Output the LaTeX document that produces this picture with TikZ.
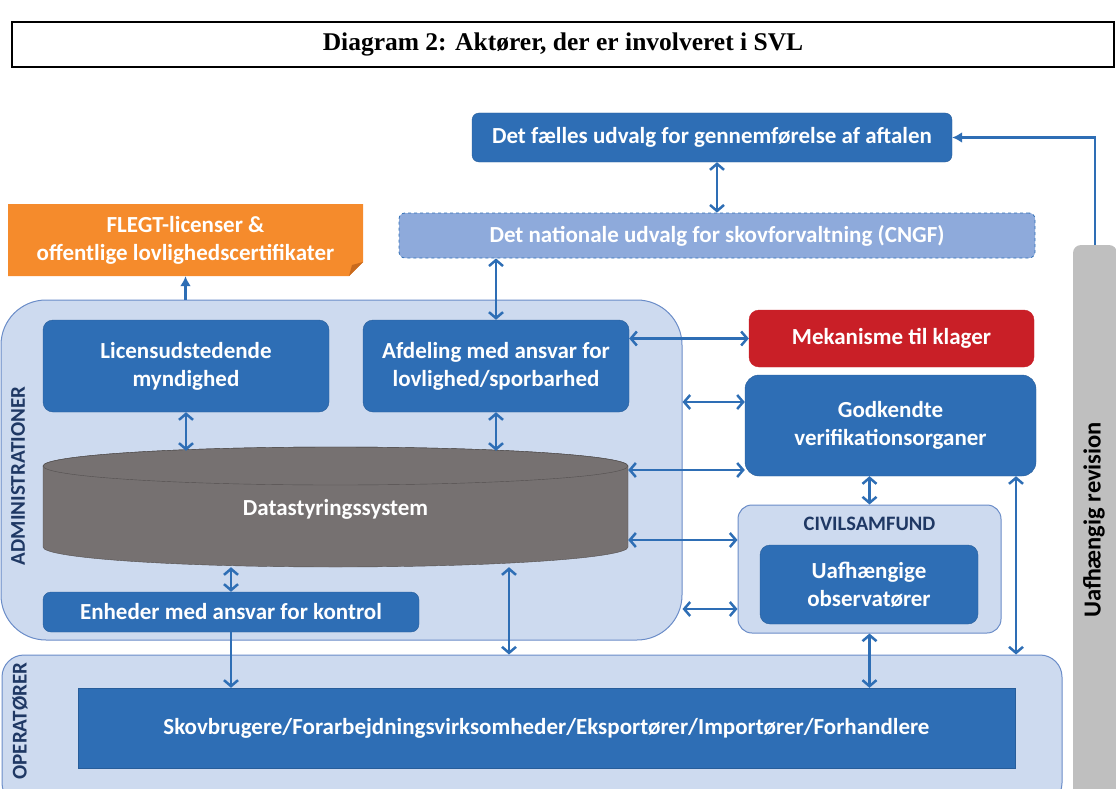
\documentclass[tikz,border=0pt]{standalone}
\usepackage{fontspec}
\setmainfont{Carlito}
\newfontfamily\titlefont{Liberation Serif}
\usetikzlibrary{arrows.meta,positioning}
\definecolor{dblue}{HTML}{2E6EB5}
\definecolor{lblue}{HTML}{CDDAEF}
\definecolor{rblue}{HTML}{6A8CC8}
\definecolor{cblue}{HTML}{8EAADB}
\definecolor{navy}{HTML}{1F3864}
\definecolor{orng}{HTML}{F58B2C}
\definecolor{dorng}{HTML}{C86A1E}
\definecolor{mred}{HTML}{C91F27}
\definecolor{cylgray}{HTML}{767171}
\definecolor{revgray}{HTML}{BFBFBF}
\newcommand\lblfont{\fontsize{23}{28}\selectfont\bfseries}

\begin{document}
\begin{tikzpicture}[x=1pt,y=-1pt,
  >={Straight Barb[length=6pt,width=14pt]},
  actor/.style={fill=dblue,draw=dblue!85!black,rounded corners=10pt,text=white,font=\lblfont,align=center},
  region/.style={fill=lblue,draw=rblue,line width=1pt},
  link/.style={<->,draw=dblue,line width=2.5pt},
  tag/.style={font=\fontsize{21}{24}\selectfont\bfseries,text=navy}]
  \useasboundingbox (0,0) rectangle (1116,789);

  % title
  \node[draw,line width=1.6pt,minimum width=1102,minimum height=45,
    font=\titlefont\fontsize{25.5}{28}\selectfont\bfseries] (title) at (563,44.5)
    {Diagram 2: Aktører, der er involveret i SVL};

  % groups
  \node[region,rounded corners=45pt,minimum width=681,minimum height=340] (adm) at (341.5,470) {};
  \node[region,rounded corners=22pt,minimum width=1060,minimum height=150] (op) at (532,730) {};
  \node[region,rounded corners=14pt,minimum width=263,minimum height=128] (civ) at (869.5,569) {};
  \node[fill=revgray,rounded corners=8pt,minimum width=44,minimum height=560] (rev) at (1095,525) {};

  \node[tag,rotate=90] (admtag) at (18,476) {ADMINISTRATIONER};
  \node[tag,rotate=90] (optag) at (20,721) {OPERATØRER};
  \node[tag,font=\fontsize{20.5}{24}\selectfont\bfseries] (civtag) at (869.5,524) {CIVILSAMFUND};
  \node[rotate=90,font=\fontsize{24.5}{28}\selectfont\bfseries] (revtag) at (1094,520) {Uafhængig revision};

  % orange note
  \fill[orng] (8,204) -- (363,204) -- (363,262) -- (349,276) -- (8,276) -- cycle;
  \fill[dorng] (363,262) -- (349,276) -- (352,265) -- cycle;
  \node[text=white,font=\lblfont,align=center,minimum width=355,minimum height=72] (flegt) at (185.5,240)
    {FLEGT-licenser \&\\offentlige lovlighedscertifikater};

  % database
  \fill[cylgray,draw=cylgray!70!black] (43,466) -- (43,547)
    arc[start angle=180,end angle=360,x radius=292.5pt,y radius=20pt] -- (628,466)
    arc[start angle=0,end angle=180,x radius=292.5pt,y radius=19pt] -- cycle;
  \draw[cylgray!70!black] (335.5,466) ellipse[x radius=292.5pt,y radius=19pt];
  \node[text=white,font=\lblfont,minimum width=585,minimum height=116] (dss) at (335.5,509) {Datastyringssystem};

  % actors
  \node[actor,rounded corners=7pt,minimum width=480,minimum height=49] (faelles) at (712,137.5)
    {Det fælles udvalg for gennemførelse af aftalen};
  \node[actor,fill=cblue,draw=dblue,dashed,line width=0.8pt,rounded corners=6pt,minimum width=636,minimum height=45] (cngf) at (717,235.5)
    {Det nationale udvalg for skovforvaltning (CNGF)};
  \node[actor,minimum width=286,minimum height=92] (lic) at (186,366) {Licensudstedende\\myndighed};
  \node[actor,minimum width=266,minimum height=92] (afd) at (496,366) {Afdeling med ansvar for\\lovlighed/sporbarhed};
  \node[actor,rounded corners=8pt,minimum width=376,minimum height=40] (enh) at (231,612) {Enheder med ansvar for kontrol};
  \node[actor,fill=mred,draw=mred,minimum width=285,minimum height=57] (mek) at (891.5,338.5) {Mekanisme til klager};
  \node[actor,rounded corners=14pt,minimum width=291,minimum height=101] (godk) at (890.5,425.5) {Godkendte\\verifikationsorganer};
  \node[actor,minimum width=218,minimum height=79] (obs) at (869,584.5) {Uafhængige\\observatører};
  \node[actor,rounded corners=0pt,minimum width=937,minimum height=80] (skov) at (546.5,728)
    {Skovbrugere/Forarbejdningsvirksomheder/Eksportører/Importører/Forhandlere};

  % links
  \draw[link] (cngf.north |- faelles.south) -- (cngf.north);
  \draw[draw=dblue,line width=2.5pt,-{Latex[length=10pt,width=11pt]}] (rev.north) |- (faelles.east);
  \draw[draw=dblue,line width=2.5pt,-{Latex[length=10pt,width=11pt]}] (flegt.south |- adm.north) -- (flegt.south);
  \draw[link] (afd.north) -- (afd.north |- cngf.south);
  \draw[link] (lic.south) -- (lic.south |- dss.north);
  \draw[link] (afd.south) -- (afd.south |- dss.north);
  \draw[link] (afd.east |- mek.west) -- (mek.west);
  \draw[link] (adm.east |- 0,402) -- (godk.west |- 0,402);
  \draw[link] (dss.east |- 0,470) -- (godk.west |- 0,470);
  \draw[link] (dss.east |- 0,540) -- (civ.west |- 0,540);
  \draw[link] (adm.east |- 0,609) -- (civ.west |- 0,609);
  \draw[link] (civ.north) -- (civ.north |- godk.south);
  \draw[link] (enh.north) -- (enh.north |- dss.south);
  \draw[draw=dblue,line width=2.5pt,->] (enh.south) -- (enh.south |- skov.north);
  \draw[link] (dss.south -| 509,0) -- (op.north -| 509,0);
  \draw[link] (civ.south) -- (civ.south |- skov.north);
  \draw[link] (godk.south -| 1016,0) -- (op.north -| 1016,0);
\end{tikzpicture}
\end{document}
